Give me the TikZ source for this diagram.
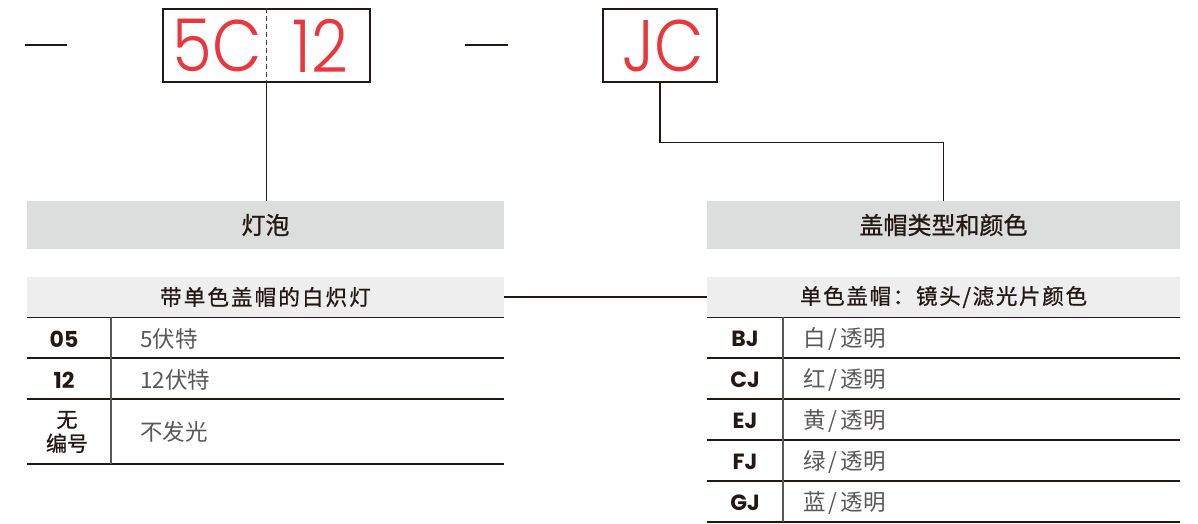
\documentclass[tikz,border=0pt]{standalone}
\usepackage{graphicx}
\usepackage{fontspec}
\newfontfamily\cjk{Noto Sans CJK SC}
\newfontfamily\cjkm[FakeBold=0.8]{Noto Sans CJK SC}
\newfontfamily\cjkb{Noto Sans CJK SC Bold}
\newfontfamily\pop{Poppins Light}
\newfontfamily\popb{Poppins Bold}
\newcommand\narrowtxt[1]{\scalebox{0.88}[1]{#1}}
\definecolor{ink}{HTML}{231815}
\definecolor{txtgray}{HTML}{595757}
\definecolor{redc}{HTML}{E8383D}
\definecolor{hdrfill}{HTML}{DCDDDD}
\definecolor{subfill}{HTML}{EEEEEE}
\tikzset{
  codebox/.style={draw=ink, line width=2.4pt, inner sep=0pt},
  redtxt/.style={text=redc, font=\pop\fontsize{73}{73}\selectfont, inner sep=0pt},
  conn/.style={draw=ink, line width=1.1pt},
  hdr/.style={fill=hdrfill, inner sep=0pt, text=ink, font=\cjkm\fontsize{24}{24}\selectfont},
  subhdr/.style={fill=subfill, inner sep=0pt, text=ink, font=\cjkm\fontsize{21.5}{21.5}\selectfont},
  rule/.style={draw=ink, line width=1.4pt},
  vrule/.style={draw=txtgray, line width=1.3pt},
  lbl/.style={text=ink, font=\popb\fontsize{22}{22}\selectfont, inner sep=0pt},
  lblc/.style={text=ink, font=\cjkm\fontsize{21}{24}\selectfont, inner sep=0pt, align=center},
  desc/.style={anchor=west, text=txtgray, font=\cjk\fontsize{22.5}{22.5}\selectfont, inner sep=0pt},
}
\begin{document}
\begin{tikzpicture}[x=1pt, y=-1pt]
\useasboundingbox (0,0) rectangle (1198,523);
% dashes
\draw[ink, line width=1.6pt] (25,45) -- (67,45);
\draw[ink, line width=1.6pt] (465,45) -- (508,45);
% code boxes
\node[codebox, minimum width=207pt, minimum height=73pt] (box1) at (266.5,45.5) {};
\draw[ink!85, line width=1.1pt, dashed, dash pattern=on 5pt off 3pt] (box1.north) -- (box1.south);
\node[redtxt] (t5c) at (217,46) {\narrowtxt{5C}};
\node[redtxt] (t12) at (320,46) {\narrowtxt{12}};
\node[codebox, minimum width=114pt, minimum height=73pt] (jc) at (660,45.5) {};
\node[redtxt] (tjc) at (663,46) {\narrowtxt{JC}};
% headers
\node[hdr, minimum width=477pt, minimum height=48pt] (hdr1) at (265.5,225) {灯泡};
\node[hdr, minimum width=473pt, minimum height=48pt] (hdr2) at (943.5,225) {盖帽类型和颜色};
\node[subhdr, minimum width=477pt, minimum height=40pt] (sub1) at (265.5,297) {\addfontfeatures{LetterSpace=10}带单色盖帽的白炽灯};
\node[subhdr, minimum width=473pt, minimum height=40pt] (sub2) at (943.5,297) {\addfontfeatures{LetterSpace=8}单色盖帽：镜头/滤光片颜色};
% connectors
\draw[conn] (box1.south) -- (box1.south |- hdr1.north);
\draw[conn] (jc.south) -- ++(0,59) -| (hdr2.north);
\draw[conn] (sub1.east) -- (sub2.west);
% left table
\draw[rule] (sub1.south west) -- (sub1.south east);
\draw[rule] (27,358) -- (504,358);
\draw[rule] (27,399) -- (504,399);
\draw[rule] (27,464) -- (504,464);
\draw[vrule] (111,317) -- (111,464);
\node[lbl] (l05) at (64,339) {05};
\node[lbl] (l12) at (64,380) {12};
\node[lblc] (lno) at (67,432) {无\\编号};
\node[desc] (d05) at (140,339) {5伏特};
\node[desc] (d12) at (140,380) {12伏特};
\node[desc] (dno) at (140,432) {不发光};
% right table
\draw[rule] (sub2.south west) -- (sub2.south east);
\draw[rule] (707,358) -- (1180,358);
\draw[rule] (707,399) -- (1180,399);
\draw[rule] (707,440) -- (1180,440);
\draw[rule] (707,481) -- (1180,481);
\draw[rule] (707,522) -- (1180,522);
\draw[vrule] (783,317) -- (783,522);
\node[lbl] (lbj) at (745,339) {BJ};
\node[lbl] (lcj) at (745,380) {CJ};
\node[lbl] (lej) at (745,421) {EJ};
\node[lbl] (lfj) at (745,462) {FJ};
\node[lbl] (lgj) at (745,503) {GJ};
\node[desc] (dbj) at (803,339) {白\hspace{3pt}/\hspace{3pt}透明};
\node[desc] (dcj) at (803,380) {红\hspace{3pt}/\hspace{3pt}透明};
\node[desc] (dej) at (803,421) {黄\hspace{3pt}/\hspace{3pt}透明};
\node[desc] (dfj) at (803,462) {绿\hspace{3pt}/\hspace{3pt}透明};
\node[desc] (dgj) at (803,503) {蓝\hspace{3pt}/\hspace{3pt}透明};
\end{tikzpicture}
\end{document}
